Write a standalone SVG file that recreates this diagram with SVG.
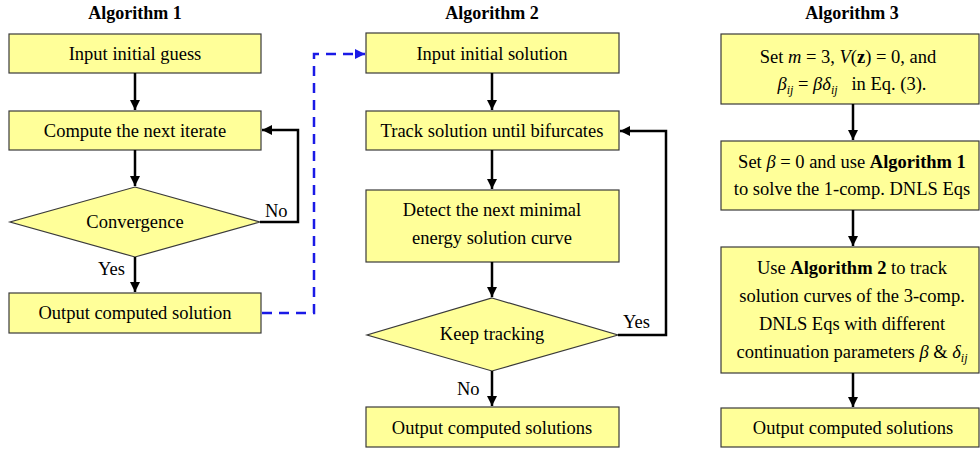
<svg xmlns="http://www.w3.org/2000/svg" width="980" height="450" viewBox="0 0 980 450">
  <defs>
    <style>
      .box { fill: #FFFF99; stroke: #3a3a3a; stroke-width: 1.2; }
      .t { font-family: "Liberation Serif", "Times New Roman", serif; font-size: 18.5px; fill: #000; text-anchor: middle; }
      .lbl { font-family: "Liberation Serif", "Times New Roman", serif; font-size: 18.5px; fill: #000; }
      .title { font-family: "Liberation Serif", "Times New Roman", serif; font-size: 18px; font-weight: bold; fill: #000; text-anchor: middle; }
      .b { font-weight: bold; }
      .i { font-style: italic; }
      .sub { font-style: italic; font-size: 12px; }
      .link { fill: none; stroke: #000; stroke-width: 2.5; }
      .dash { fill: none; stroke: #1a1aE6; stroke-width: 2.5; stroke-dasharray: 10 7; }
    </style>
    <marker id="ah" viewBox="0 0 10 10" refX="10" refY="5" markerWidth="4" markerHeight="4" markerUnits="strokeWidth" orient="auto">
      <path d="M0,0 L10,5 L0,10 Z" fill="#000"/>
    </marker>
    <marker id="ahb" viewBox="0 0 10 10" refX="10" refY="5" markerWidth="4" markerHeight="4" markerUnits="strokeWidth" orient="auto">
      <path d="M0,0 L10,5 L0,10 Z" fill="#1a1aE6"/>
    </marker>
  </defs>

  <!-- column titles -->
  <text class="title" x="135" y="19">Algorithm 1</text>
  <text class="title" x="492" y="19">Algorithm 2</text>
  <text class="title" x="852" y="19">Algorithm 3</text>

  <!-- Algorithm 1 -->
  <g id="a1-input">
    <rect class="box" x="9" y="34" width="252" height="39"/>
    <text class="t" x="135" y="60">Input initial guess</text>
  </g>
  <g id="a1-compute">
    <rect class="box" x="9" y="111" width="252" height="39"/>
    <text class="t" x="135" y="137">Compute the next iterate</text>
  </g>
  <g id="a1-convergence">
    <polygon class="box" points="135,187 260,222 135,257 10,222"/>
    <text class="t" x="135" y="228">Convergence</text>
  </g>
  <g id="a1-output">
    <rect class="box" x="9" y="293" width="252" height="40"/>
    <text class="t" x="135" y="319">Output computed solution</text>
  </g>

  <!-- Algorithm 2 -->
  <g id="a2-input">
    <rect class="box" x="366" y="33" width="253" height="40"/>
    <text class="t" x="492" y="60">Input initial solution</text>
  </g>
  <g id="a2-track">
    <rect class="box" x="366" y="111" width="253" height="39"/>
    <text class="t" x="492" y="137">Track solution until bifurcates</text>
  </g>
  <g id="a2-detect">
    <rect class="box" x="366" y="190" width="253" height="72"/>
    <text class="t" x="492" y="216">Detect the next minimal</text>
    <text class="t" x="492" y="244">energy solution curve</text>
  </g>
  <g id="a2-keep">
    <polygon class="box" points="492,298 618,335 492,371 367,335"/>
    <text class="t" x="492" y="340">Keep tracking</text>
  </g>
  <g id="a2-output">
    <rect class="box" x="366" y="407" width="253" height="40"/>
    <text class="t" x="492" y="434">Output computed solutions</text>
  </g>

  <!-- Algorithm 3 -->
  <g id="a3-setup">
    <rect class="box" x="721" y="34" width="258" height="70"/>
    <text class="t" x="848" y="63">Set <tspan class="i">m</tspan> = 3, <tspan class="i">V</tspan>(<tspan class="b">z</tspan>) = 0, and</text>
    <text class="t" x="852" y="90"><tspan class="i">β</tspan><tspan class="sub" dy="4">ij</tspan><tspan dy="-4"> = </tspan><tspan class="i">βδ</tspan><tspan class="sub" dy="4">ij</tspan><tspan dy="-4" xml:space="preserve">   in Eq. (3).</tspan></text>
  </g>
  <g id="a3-single">
    <rect class="box" x="721" y="141" width="258" height="69"/>
    <text class="t" x="852" y="168">Set <tspan class="i">β</tspan> = 0 and use <tspan class="b">Algorithm 1</tspan></text>
    <text class="t" x="852" y="195">to solve the 1-comp. DNLS Eqs</text>
  </g>
  <g id="a3-multi">
    <rect class="box" x="721" y="247" width="258" height="126"/>
    <text class="t" x="852" y="274">Use <tspan class="b">Algorithm 2</tspan> to track</text>
    <text class="t" x="852" y="302">solution curves of the 3-comp.</text>
    <text class="t" x="852" y="330">DNLS Eqs with different</text>
    <text class="t" x="852" y="358">continuation parameters <tspan class="i">β</tspan> &amp; <tspan class="i">δ</tspan><tspan class="sub" dy="4">ij</tspan></text>
  </g>
  <g id="a3-output">
    <rect class="box" x="721" y="408" width="258" height="39"/>
    <text class="t" x="853" y="434">Output computed solutions</text>
  </g>

  <!-- connectors -->
  <g id="connectors">
    <line class="link" x1="135" y1="73" x2="135" y2="110" marker-end="url(#ah)"/>
    <line class="link" x1="135" y1="150" x2="135" y2="186" marker-end="url(#ah)"/>
    <line class="link" x1="135" y1="257" x2="135" y2="292" marker-end="url(#ah)"/>
    <polyline class="link" points="260,222 298,222 298,130 262,130" marker-end="url(#ah)"/>

    <polyline class="dash" points="262,313 314,313 314,54 365,54" marker-end="url(#ahb)"/>

    <line class="link" x1="492" y1="73" x2="492" y2="110" marker-end="url(#ah)"/>
    <line class="link" x1="492" y1="150" x2="492" y2="189" marker-end="url(#ah)"/>
    <line class="link" x1="492" y1="262" x2="492" y2="297" marker-end="url(#ah)"/>
    <line class="link" x1="492" y1="371" x2="492" y2="406" marker-end="url(#ah)"/>
    <polyline class="link" points="618,335 666,335 666,131 620,131" marker-end="url(#ah)"/>

    <line class="link" x1="853" y1="104" x2="853" y2="140" marker-end="url(#ah)"/>
    <line class="link" x1="853" y1="210" x2="853" y2="246" marker-end="url(#ah)"/>
    <line class="link" x1="853" y1="373" x2="853" y2="407" marker-end="url(#ah)"/>

    <text class="lbl" x="265" y="217">No</text>
    <text class="lbl" x="98" y="275">Yes</text>
    <text class="lbl" x="623" y="328">Yes</text>
    <text class="lbl" x="457" y="395">No</text>
  </g>
</svg>
